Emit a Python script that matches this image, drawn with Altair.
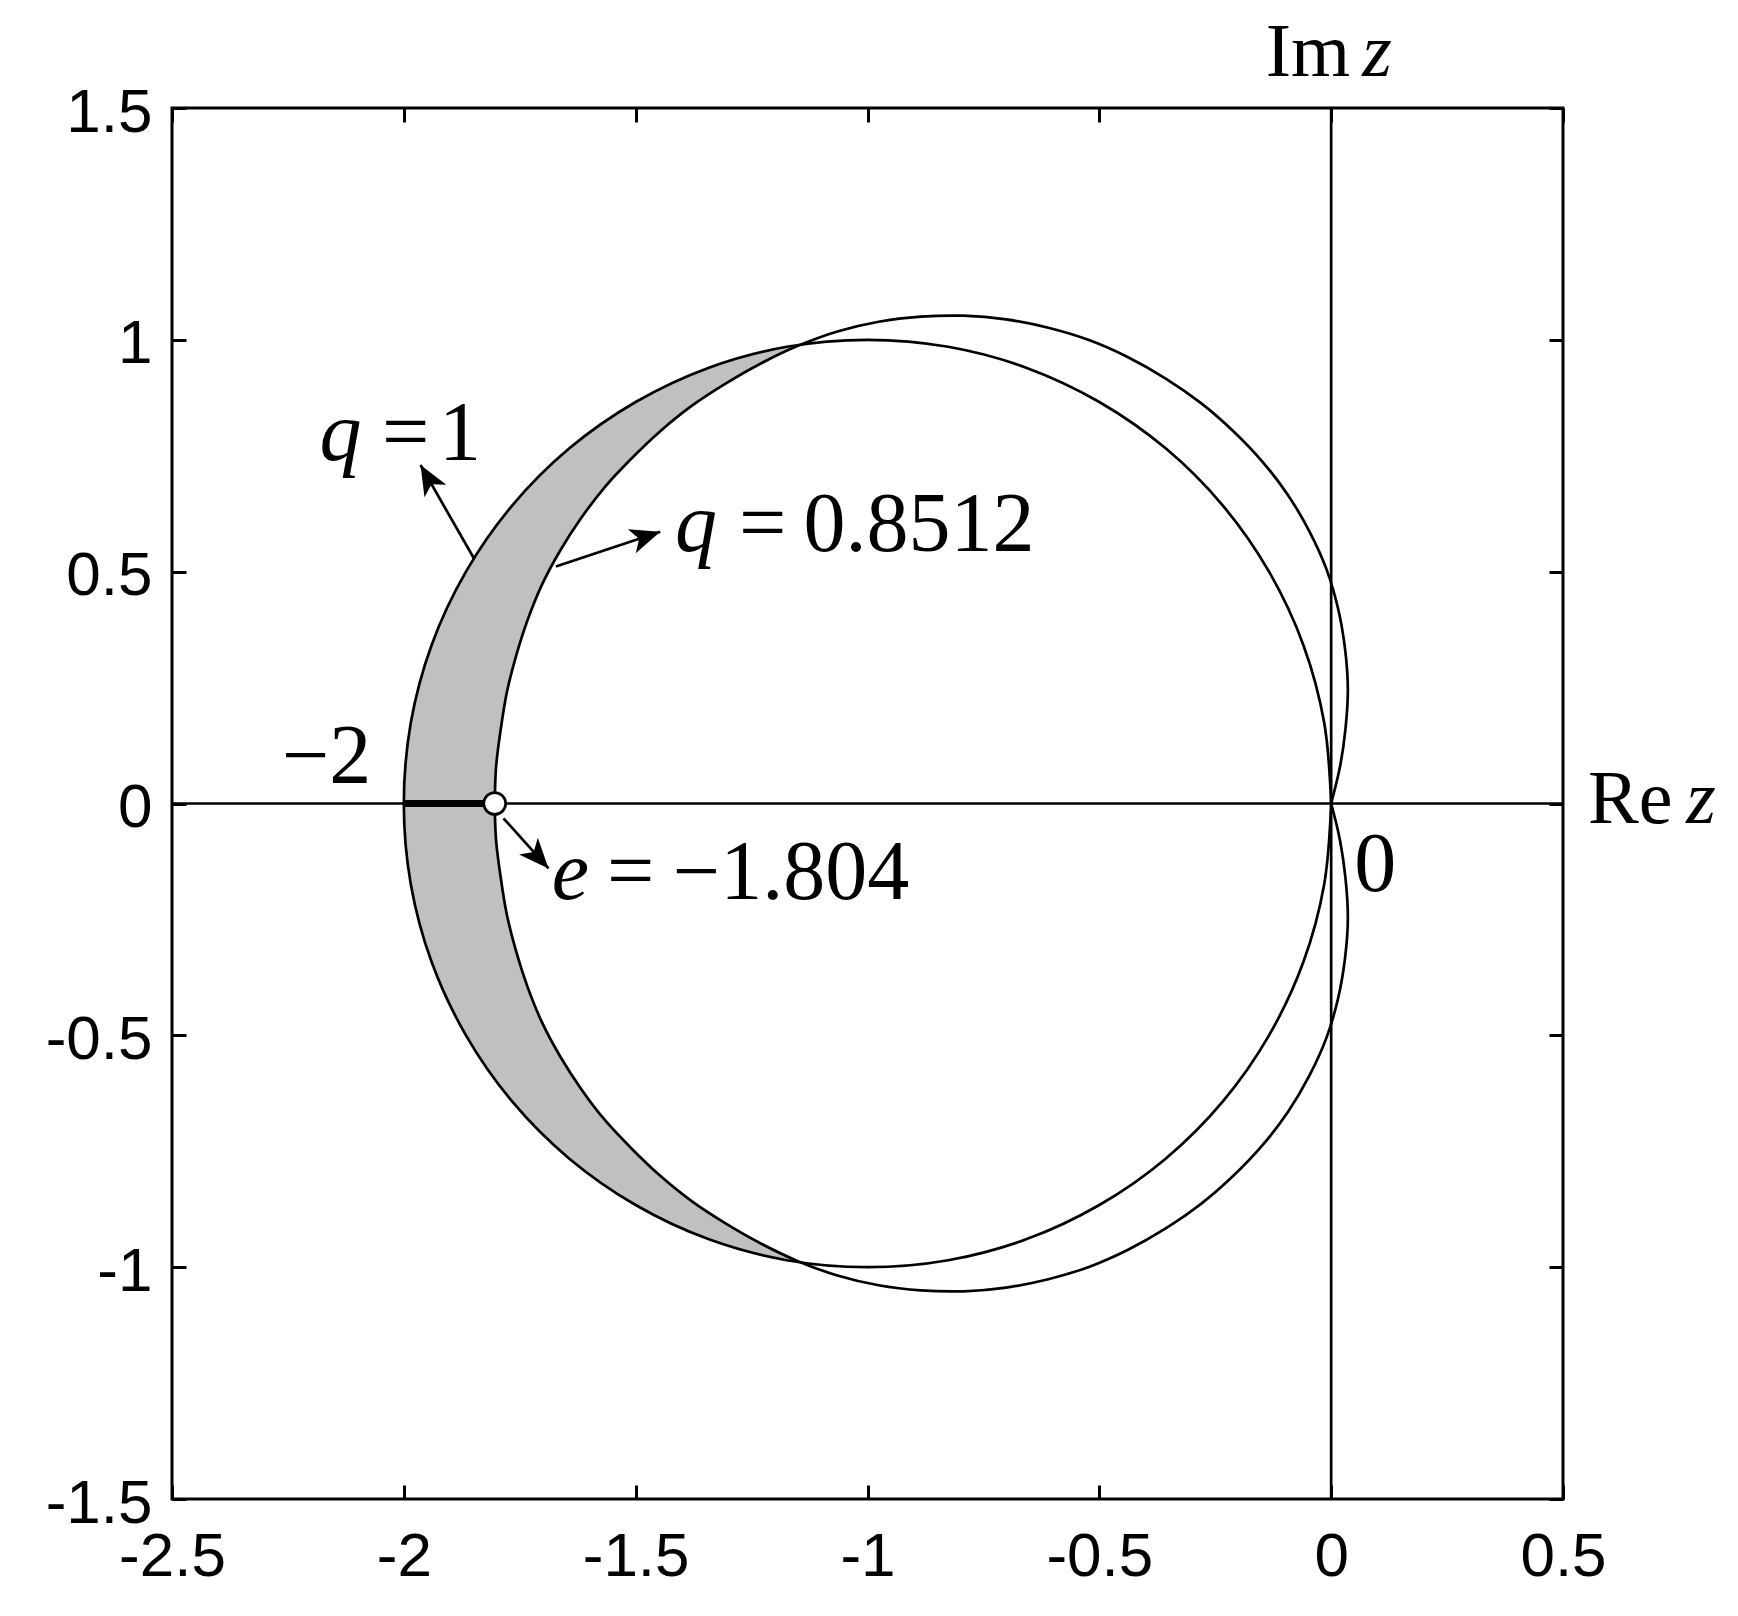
import math
import altair as alt
import pandas as pd

# ---------------- data ----------------
x_ticks = [-2.5, -2, -1.5, -1, -0.5, 0, 0.5]
y_ticks = [-1.5, -1, -0.5, 0, 0.5, 1, 1.5]

# q = 1 boundary, upper half, from z = 0 round to z = -2
q1_x = [0.000, -0.015, -0.060, -0.134, -0.234, -0.357, -0.500, -0.658, -0.826, -1.000,
        -1.174, -1.342, -1.500, -1.643, -1.766, -1.866, -1.940, -1.985, -2.000]
q1_y = [0.000, 0.174, 0.342, 0.500, 0.643, 0.766, 0.866, 0.940, 0.985, 1.000,
        0.985, 0.940, 0.866, 0.766, 0.643, 0.500, 0.342, 0.174, 0.000]

# q = 0.8512 boundary, upper half, from z = -1.804 round to z = 0
q2_x = [-1.804, -1.801, -1.791, -1.778, -1.758, -1.733, -1.702, -1.663, -1.618, -1.567,
        -1.509, -1.447, -1.380, -1.307, -1.230, -1.150, -1.065, -0.976, -0.885, -0.793,
        -0.701, -0.610, -0.521, -0.437, -0.356, -0.280, -0.211, -0.148, -0.093, -0.047,
        -0.010, 0.015, 0.030, 0.036, 0.031, 0.019, 0.000]
q2_y = [0.000, 0.080, 0.160, 0.239, 0.318, 0.396, 0.472, 0.545, 0.615, 0.682,
        0.744, 0.803, 0.857, 0.905, 0.949, 0.987, 1.018, 1.039, 1.050, 1.052,
        1.044, 1.026, 0.999, 0.962, 0.916, 0.863, 0.803, 0.737, 0.665, 0.587,
        0.505, 0.420, 0.333, 0.247, 0.162, 0.079, 0.000]

e_value = -1.804
left_end = -2.0

# arrows: tail -> head
arrow_x0 = [-1.849, -1.672, -1.785]
arrow_y0 = [0.529, 0.511, -0.032]
arrow_x1 = [-1.964, -1.447, -1.688]
arrow_y1 = [0.730, 0.586, -0.140]

# annotation texts
text_labels = ["q", "=", "1", "q", "=", "0.8512", "e", "=", "\u22121.804",
               "\u22122", "0", "Im", "z", "Re", "z"]
text_x = [-2.182, -2.047, -1.924, -1.415, -1.277, -1.138, -1.681, -1.562, -1.420,
          -2.263, 0.050, -0.141, 0.067, 0.554, 0.766]
text_y = [0.741, 0.741, 0.741, 0.545, 0.545, 0.545, -0.207, -0.207, -0.207,
          0.045, -0.188, 1.569, 1.569, -0.043, -0.043]
text_style = ["it84", "rm84", "rm84", "it84", "rm84", "rm84", "it84", "rm84", "rm84",
              "rm84", "rm84", "rm76", "it76", "rm76", "it76"]

# ---------------- tables ----------------
lx = q1_x + q1_x[::-1][1:]
ly = q1_y + [-v for v in q1_y[::-1][1:]]
df_q1 = pd.DataFrame({"x": lx, "y": ly, "i": list(range(len(lx)))})

gx = [x for x in q1_x if x <= -1.0]
gy = [y for x, y in zip(q1_x, q1_y) if x <= -1.0]
df_gray = pd.DataFrame({"x": gx, "y": gy, "y2": [-v for v in gy]})

n_top = q2_y.index(max(q2_y)) + 1
df_white = pd.DataFrame({"x": q2_x[:n_top], "y": q2_y[:n_top], "y2": [-v for v in q2_y[:n_top]]})

df_q2 = pd.DataFrame({
    "x": q2_x + q2_x,
    "y": q2_y + [-v for v in q2_y],
    "branch": ["u"] * len(q2_x) + ["l"] * len(q2_x),
    "i": list(range(len(q2_x))) * 2,
})

df_axes = pd.DataFrame({"x": [x_ticks[0], 0.0], "x2": [x_ticks[-1], 0.0],
                        "y": [0.0, y_ticks[0]], "y2": [0.0, y_ticks[-1]]})
df_seg = pd.DataFrame({"x": [left_end], "x2": [e_value], "y": [0.0]})
df_pt = pd.DataFrame({"x": [e_value], "y": [0.0]})

angles = [(math.degrees(math.atan2(x1 - x0, y1 - y0)) + 360) % 360
          for x0, y0, x1, y1 in zip(arrow_x0, arrow_y0, arrow_x1, arrow_y1)]
df_arr = pd.DataFrame({"x": arrow_x0, "y": arrow_y0, "x2": arrow_x1, "y2": arrow_y1, "ang": angles})
df_head = pd.DataFrame({"x": arrow_x1, "y": arrow_y1, "ang": angles})

df_text = pd.DataFrame({"x": text_x, "y": text_y, "t": text_labels, "s": text_style})

# ---------------- chart ----------------
xs = alt.Scale(domain=[x_ticks[0], x_ticks[-1]], nice=False, zero=False)
ys = alt.Scale(domain=[y_ticks[0], y_ticks[-1]], nice=False, zero=False)

common = dict(domain=False, grid=False, ticks=True, tickSize=14, tickWidth=3,
              tickColor="black", offset=-14, labelFont="Liberation Sans",
              labelFontSize=62, labelColor="black", labelFlush=False,
              labelOverlap=False, labelBound=False, labelExpr="'' + datum.value",
              title=None)
ax_bottom = alt.Axis(orient="bottom", values=x_ticks, labelPadding=27, **common)
ax_left = alt.Axis(orient="left", values=y_ticks, labelPadding=20, labelOffset=4, **common)
ax_top = alt.Axis(orient="top", values=x_ticks, labels=False, **common)
ax_right = alt.Axis(orient="right", values=y_ticks, labels=False, **common)


def X(field="x", axis=None):
    return alt.X(f"{field}:Q", scale=xs, axis=axis)


def Y(field="y", axis=None):
    return alt.Y(f"{field}:Q", scale=ys, axis=axis)


LW = 2.7

gray = alt.Chart(df_gray).mark_area(color="#c0c0c0", opacity=1, interpolate="catmull-rom").encode(
    x=X(axis=ax_bottom), y=Y(axis=ax_left), y2="y2:Q")
white = alt.Chart(df_white).mark_area(color="white", opacity=1, interpolate="catmull-rom").encode(
    x=X(axis=ax_top), y=Y(axis=ax_right), y2="y2:Q")
axes_lines = alt.Chart(df_axes).mark_rule(color="black", strokeWidth=LW).encode(
    x=X(), x2="x2:Q", y=Y(), y2="y2:Q")
seg = alt.Chart(df_seg).mark_rule(color="black", strokeWidth=7, strokeCap="butt").encode(
    x=X(), x2="x2:Q", y=Y())
c1 = alt.Chart(df_q1).mark_line(color="black", strokeWidth=LW, interpolate="catmull-rom").encode(
    x=X(), y=Y(), order="i:Q")
c2 = alt.Chart(df_q2).mark_line(color="black", strokeWidth=LW, interpolate="catmull-rom").encode(
    x=X(), y=Y(), order="i:Q", detail="branch:N")
shafts = alt.Chart(df_arr).mark_rule(color="black", strokeWidth=LW).encode(
    x=X(), y=Y(), x2="x2:Q", y2="y2:Q")
heads = alt.Chart(df_head).mark_point(
    shape="M0,0L0.42,1L0,0.74L-0.42,1Z", filled=True, color="black", opacity=1,
    size=3600, strokeWidth=0).encode(x=X(), y=Y(), angle=alt.Angle("ang:Q", scale=None))
marker = alt.Chart(df_pt).mark_point(
    shape="circle", filled=True, fill="white", stroke="black", strokeWidth=LW,
    opacity=1, size=480).encode(x=X(), y=Y())


def texts(style, size, italic):
    kw = dict(align="left", baseline="alphabetic", font="Liberation Serif",
              fontSize=size, color="black")
    if italic:
        kw["fontStyle"] = "italic"
    return alt.Chart(df_text).transform_filter(
        alt.datum.s == style).mark_text(**kw).encode(x=X(), y=Y(), text="t:N")


layers = [gray, white, axes_lines, seg, c1, c2, shafts, heads, marker,
          texts("rm84", 84, False), texts("it84", 84, True),
          texts("rm76", 76, False), texts("it76", 76, True)]

chart = alt.layer(*layers).resolve_axis(x="independent", y="independent").properties(
    width=1391, height=1391,
    padding={"left": 164, "top": 100, "right": 167, "bottom": 100},
    autosize=alt.AutoSizeParams(type="none"),
).configure_view(stroke="black", strokeWidth=3)

chart.save("out.html", embed_options={"renderer": "svg", "actions": False})
